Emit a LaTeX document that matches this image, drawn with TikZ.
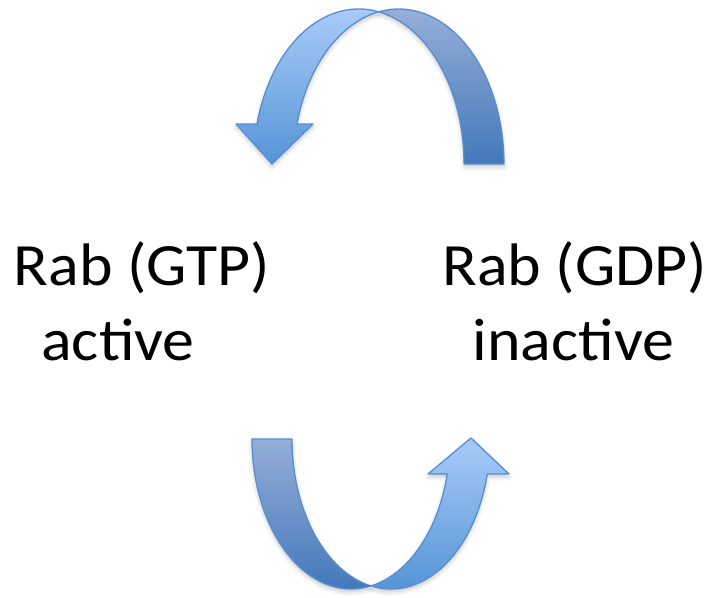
\documentclass[tikz,border=0pt]{standalone}
\usepackage{fontspec}
\setmainfont{Carlito}[FakeStretch=1.065]
\usetikzlibrary{shadows.blur}

\definecolor{ribbonlighttop}{RGB}{168,203,248}
\definecolor{ribbonlightbot}{RGB}{86,148,215}
\definecolor{ribbondarktop}{RGB}{148,174,216}
\definecolor{ribbondarkbot}{RGB}{68,120,186}
\definecolor{arrowline}{RGB}{88,142,208}

\begin{document}
\begin{tikzpicture}[x=1pt,y=1pt,
  ribbon/.style={draw=arrowline, line width=1.3pt, line join=round,
    blur shadow={shadow xshift=0pt, shadow yshift=-3pt,
                 shadow blur radius=4pt, shadow opacity=22}},
  lightribbon/.style={ribbon, top color=ribbonlighttop, bottom color=ribbonlightbot},
  darkribbon/.style={ribbon, top color=ribbondarktop, bottom color=ribbondarkbot},
  statelabel/.style={font=\fontsize{60}{73}\selectfont, inner sep=0pt, anchor=base}]

\useasboundingbox (0,0) rectangle (709,597);

% upper curved arrow: two equal ellipses shifted by the ribbon width
% tail ribbon (right half)
\path[darkribbon]
  plot[domain=0:100.95, samples=60, variable=\t]
    ({398.7+105.3*cos(\t)}, {433+155*sin(\t)})
  -- plot[domain=0:79.05, samples=60, variable=\t]
    ({358.7+105.3*cos(79.05-\t)}, {433+155*sin(79.05-\t)})
  -- cycle;
% head ribbon (left half) with its arrowhead
\path[lightribbon]
  plot[domain=79.05:165.04, samples=60, variable=\t]
    ({358.7+105.3*cos(\t)}, {433+155*sin(\t)})
  -- (236,473) -- (272,433) -- (313,473)
  -- plot[domain=0:64.09, samples=60, variable=\t]
    ({398.7+105.3*cos(165.04-\t)}, {433+155*sin(165.04-\t)})
  -- cycle;

% lower curved arrow
% tail ribbon (left half)
\path[darkribbon]
  plot[domain=180:281.65, samples=60, variable=\t]
    ({351+99*cos(\t)}, {158+150*sin(\t)})
  -- plot[domain=0:78.35, samples=60, variable=\t]
    ({391+99*cos(258.35-\t)}, {158+150*sin(258.35-\t)})
  -- cycle;
% head ribbon (right half) with its arrowhead
\path[lightribbon]
  plot[domain=258.35:346.5, samples=60, variable=\t]
    ({391+99*cos(\t)}, {158+150*sin(\t)})
  -- (509,123) -- (471,159) -- (428,123)
  -- plot[domain=0:64.85, samples=60, variable=\t]
    ({351+99*cos(346.5-\t)}, {158+150*sin(346.5-\t)})
  -- cycle;

% state labels
\node[statelabel] (gtp)      at (142,311)   {Rab (GTP)};
\node[statelabel] (gtpstate) at (118,236)   {active};
\node[statelabel] (gdp)      at (575,311)   {Rab (GDP)};
\node[statelabel] (gdpstate) at (573.5,236) {inactive};

\end{tikzpicture}
\end{document}
